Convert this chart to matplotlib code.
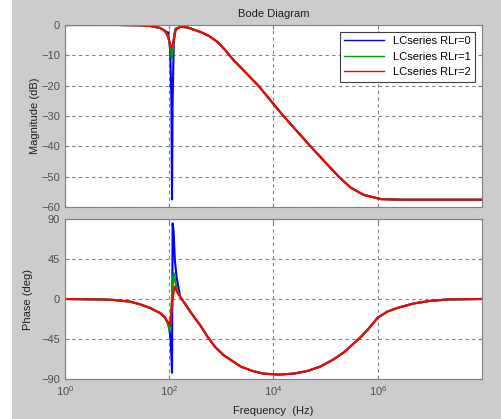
import numpy as np
import matplotlib
matplotlib.use('Agg')
import matplotlib.pyplot as plt
from matplotlib.lines import Line2D
from matplotlib.patches import Rectangle

plt.rcParams['font.family'] = ['Liberation Sans', 'DejaVu Sans']
plt.rcParams['font.size'] = 8

# ---- data ----
labels = ['LCseries RLr=0', 'LCseries RLr=1', 'LCseries RLr=2']
colores = ['#0000ff', '#00a000', '#ff0000']

# magnitude (dB), shared part below and above the notch
f_mag_lo = [1, 10, 27.5, 42.7, 67.6, 83]
mag_lo = [0, 0, -0.1, -0.3, -1.0, -2.0]
f_mag_hi = [162, 224, 398, 575, 832, 1175, 1698, 5129, 15488, 51286, 177828,
            301995, 537032, 1.148e6, 2.754e6, 1e8]
mag_hi = [-0.6, -0.8, -2.3, -3.6, -5.5, -8.2, -11.5, -20, -30, -40, -50,
          -53.6, -56, -57.4, -57.6, -57.6]

# notch, one per series
f_mag_notch = [
    [95, 104, 110, 113, 116, 122, 130],
    [95, 105, 110, 113, 117, 124, 132],
    [95, 105, 110, 113, 118, 126, 135],
]
mag_notch = [
    [-2.5, -8, -25, -57.5, -25, -6, -1.5],
    [-3.5, -7, -10, -11, -8, -3.5, -1.2],
    [-4.0, -6.5, -7.3, -7.5, -6, -3.5, -1.5],
]

# phase (deg)
f_fase_lo = [1, 4.7, 8.3, 17.8, 27.5, 42.7, 67.6, 83.2]
fase_lo = [0, -0.5, -1, -3, -6, -10, -16, -21]
f_fase_hi = [204, 251, 398, 537, 759, 1096, 2344, 3981, 6457, 12589, 23988,
             44668, 79433, 141254, 223872, 331131, 467735, 676083, 1e6,
             1.549e6, 2.399e6, 4.898e6, 1.047e7, 2.239e7, 1e8]
fase_hi = [-6, -14, -30, -42, -54, -63, -76, -81, -84, -85, -84,
           -81, -76, -68, -60, -51, -43, -33, -21,
           -14, -10, -5, -2, -0.5, 0]

f_fase_notch = [
    [95, 100, 106, 111, 113, 116, 121, 128, 138, 162],
    [95, 101, 106, 112, 118, 122, 130, 145, 162],
    [95, 102, 108, 115, 122, 128, 138, 150, 162],
]
fase_notch = [
    [-28, -33, -45, -70, -83, 85, 77, 44, 25, 2],
    [-28, -35, -25, 0, 20, 29, 20, 8, 2],
    [-26, -29, -20, -3, 9, 14, 9, 5, 3],
]

# ---- figure ----
fig = plt.figure(figsize=(5.02, 4.19), dpi=100, facecolor='#cccccc')
fig.patches.append(Rectangle((0, 0), 12 / 502, 1, transform=fig.transFigure,
                             facecolor='white', edgecolor='none', zorder=-1))

ax1 = fig.add_axes([65 / 502, 1 - 207 / 419, 417 / 502, 182 / 419])
ax2 = fig.add_axes([65 / 502, 1 - 379 / 419, 417 / 502, 160 / 419])

for i in range(3):
    fm = f_mag_lo + f_mag_notch[i] + f_mag_hi
    m = mag_lo + mag_notch[i] + mag_hi
    ax1.semilogx(fm, m, color=colores[i], lw=1.5)
    ff = f_fase_lo + f_fase_notch[i] + f_fase_hi
    p = fase_lo + fase_notch[i] + fase_hi
    ax2.semilogx(ff, p, color=colores[i], lw=1.5)

for ax in (ax1, ax2):
    ax.set_xlim(1, 1e8)
    ax.set_xticks([1, 1e2, 1e4, 1e6])
    ax.xaxis.set_minor_locator(matplotlib.ticker.NullLocator())
    ax.grid(True, color='#808080', linestyle=(0, (3, 3)), linewidth=0.8)
    ax.tick_params(direction='in', top=True, right=True, length=3,
                   colors='#808080', labelcolor='#505050', labelsize=8)
    for s in ax.spines.values():
        s.set_color('#808080')

ax1.set_ylim(-60, 0)
ax1.set_yticks([0, -10, -20, -30, -40, -50, -60])
ax1.set_xticklabels([])
ax1.set_ylabel('Magnitude (dB)', color='#202020')
ax1.yaxis.set_label_coords(-0.06, 0.5)
ax1.set_title('Bode Diagram', fontsize=8, color='#202020', pad=6)

ax2.set_ylim(-90, 90)
ax2.set_yticks([-90, -45, 0, 45, 90])
ax2.set_ylabel('Phase (deg)', color='#202020')
ax2.yaxis.set_label_coords(-0.077, 0.5)
ax2.set_xlabel('Frequency  (Hz)', color='#202020', labelpad=6)

handles = [Line2D([], [], color=c, lw=1) for c in colores]
leg = ax1.legend(handles, labels, loc='upper right', fancybox=False,
                 framealpha=1, edgecolor='#404040', fontsize=8,
                 handlelength=3.6, borderaxespad=0.6)
leg.get_frame().set_linewidth(0.8)

fig.savefig('out.png', dpi=100, facecolor=fig.get_facecolor())
